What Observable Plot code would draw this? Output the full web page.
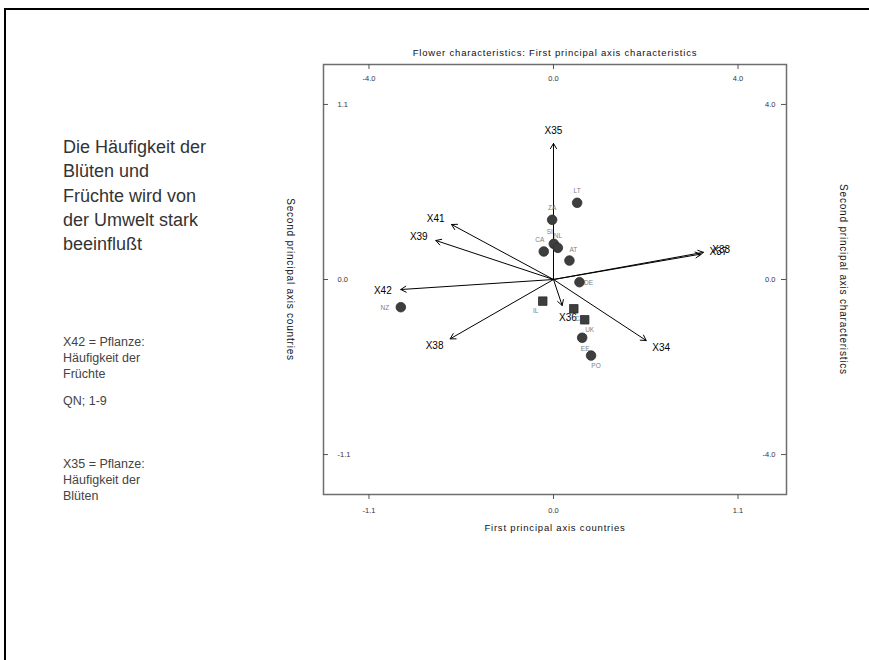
<!DOCTYPE html>
<html>
<head>
<meta charset="utf-8">
<script src="https://cdn.jsdelivr.net/npm/d3@7"></script>
<script src="https://cdn.jsdelivr.net/npm/@observablehq/plot@0.6"></script>
<style>
  body { margin: 0; background: #fff; font-family: "Liberation Sans", Arial, sans-serif; }
  #page { position: absolute; left: 4px; top: 8px; width: 880px; height: 700px;
          border-top: 2px solid #000; border-left: 2px solid #000; }
  .note { position: absolute; left: 63px; color: #333; white-space: nowrap; }
  #head { top: 135px; font-size: 18px; line-height: 24.3px; }
  .small { font-size: 12.5px; line-height: 16px; color: #444; }
  #chart { position: absolute; left: 260px; top: 30px; }
</style>
</head>
<body>
<div id="page"></div>
<div class="note" id="head">Die Häufigkeit der<br>Blüten und<br>Früchte wird von<br>der Umwelt stark<br>beeinflußt</div>
<div class="note small" style="top:334px">X42 = Pflanze:<br>Häufigkeit der<br>Früchte</div>
<div class="note small" style="top:393px">QN; 1-9</div>
<div class="note small" style="top:456px">X35 = Pflanze:<br>Häufigkeit der<br>Blüten</div>
<div id="chart"></div>
<script>
// Country scores on the first two principal axes
const countries     = ["LT", "ZA", "SI", "NL", "CA", "AT", "DE", "IL", "CZ", "UK", "EE", "PO", "NZ"];
const countryPc1    = [0.141, -0.008, 0.002, 0.026, -0.058, 0.095, 0.155, -0.064, 0.121, 0.186, 0.171, 0.224, -0.910];
const countryPc2    = [0.482, 0.375, 0.224, 0.199, 0.176, 0.119, -0.017, -0.136, -0.184, -0.253, -0.366, -0.478, -0.174];
const countryShape  = ["circle", "circle", "circle", "circle", "circle", "circle", "circle", "square", "square", "square", "circle", "circle", "circle"];
const countrySide   = ["n", "n", "nw", "n", "nw", "ne", "e", "sw", "se", "se", "s", "se", "w"];

// Characteristic loadings (vectors) on the same two axes
const traits   = ["X35", "X41", "X39", "X42", "X38", "X36", "X34", "X37", "X33"];
const traitPc1 = [0.0, -2.21, -2.55, -3.31, -2.24, 0.188, 2.01, 3.19, 3.25];
const traitPc2 = [3.11, 1.257, 0.891, -0.229, -1.356, -0.594, -1.394, 0.58, 0.62];

// Tick values for the country axes (bottom/left) and characteristic axes (top/right)
const countryTicks = [-1.1, 0.0, 1.1];
const traitTicks   = [-4.0, 0.0, 4.0];

// Characteristic units are drawn on the country scale
const k = countryTicks[2] / traitTicks[2];

const W = 600, H = 530, mL = 63, mR = 74, mT = 34, mB = 66;
const xDomain = [-1.371, 1.389], yDomain = [-1.351, 1.351];
const kx = (W - mL - mR) / (xDomain[1] - xDomain[0]);   // px per unit
const ky = (H - mT - mB) / (yDomain[1] - yDomain[0]);

const pts = countries.map((name, i) => ({
  name, x: countryPc1[i], y: countryPc2[i], shape: countryShape[i], side: countrySide[i]
}));

const vecs = traits.map((name, i) => {
  const x = traitPc1[i] * k, y = traitPc2[i] * k;
  const px = x * kx, py = -y * ky, len = Math.hypot(px, py);
  const ux = px / len, uy = py / len;
  return { name, x, y, lx: x + (ux * 18) / kx, ly: y - (uy * 13) / ky };
});

const sideOffset = {
  n: [0, -12], nw: [-4, -12], ne: [4, -11], s: [3, 11],
  se: [5, 10], sw: [-7, 10], w: [-16, 1], e: [9, 1]
};

const fmt = d => d.toFixed(1);
const font = "Liberation Sans, Arial, sans-serif";
const tickLen = 5;

const labelMarks = Object.entries(sideOffset).map(([side, [dx, dy]]) =>
  Plot.text(pts.filter(d => d.side === side), {
    x: "x", y: "y", text: "name", dx, dy,
    fontSize: 6.5, fill: "#808080", fontFamily: font
  })
);

const titles = {
  top: "Flower characteristics: First principal axis characteristics",
  bottom: "First principal axis countries",
  left: "Second principal axis countries",
  right: "Second principal axis characteristics"
};

const chart = Plot.plot({
  width: W, height: H,
  marginLeft: mL, marginRight: mR, marginTop: mT, marginBottom: mB,
  x: { domain: xDomain, axis: null },
  y: { domain: yDomain, axis: null },
  style: { fontFamily: font, background: "transparent", overflow: "visible" },
  marks: [
    Plot.frame({ stroke: "#6e6e6e", strokeWidth: 1.5 }),

    // bottom ticks (outward) and top ticks (inward)
    Plot.ruleX(countryTicks, { x: d => d, y1: yDomain[0], y2: yDomain[0] - tickLen / ky, stroke: "#555" }),
    Plot.ruleX(countryTicks, { x: d => d, y1: yDomain[1], y2: yDomain[1] - tickLen / ky, stroke: "#555" }),
    // left and right ticks (inward)
    Plot.ruleY(countryTicks, { y: d => d, x1: xDomain[0], x2: xDomain[0] + tickLen / kx, stroke: "#555" }),
    Plot.ruleY(countryTicks, { y: d => d, x1: xDomain[1], x2: xDomain[1] - tickLen / kx, stroke: "#555" }),

    // tick labels
    Plot.text(countryTicks, { x: d => d, frameAnchor: "bottom", dy: 18, text: fmt, fontSize: 7.5, fill: "#333" }),
    Plot.text(traitTicks, { x: d => d * k, frameAnchor: "top", dy: 11, text: fmt, fontSize: 7.5, fill: "#333" }),
    Plot.text(countryTicks, { y: d => d, frameAnchor: "left", textAnchor: "start", dx: 14, text: fmt, fontSize: 7.5, fill: "#333" }),
    Plot.text(traitTicks, { y: d => d * k, frameAnchor: "right", textAnchor: "end", dx: -11, text: fmt, fontSize: 7.5, fill: "#333" }),

    // titles
    Plot.text([titles.top], {
      frameAnchor: "top", textAnchor: "middle", dy: -15, text: d => d, fontSize: 9.5, fill: "#111"
    }),
    Plot.text([titles.bottom], {
      frameAnchor: "bottom", textAnchor: "middle", dy: 36, text: d => d, fontSize: 9.5, fill: "#111"
    }),
    Plot.text([titles.left], {
      frameAnchor: "left", textAnchor: "middle", dx: -33, rotate: 90, text: d => d, fontSize: 10, fill: "#111"
    }),
    Plot.text([titles.right], {
      frameAnchor: "right", textAnchor: "middle", dx: 57, rotate: 90, text: d => d, fontSize: 10, fill: "#111"
    }),

    // characteristic vectors
    Plot.arrow(vecs, { x1: 0, y1: 0, x2: "x", y2: "y", stroke: "#000", strokeWidth: 1, headLength: 9, headAngle: 60 }),
    Plot.text(vecs, { x: "lx", y: "ly", text: "name", fontSize: 10, fill: "#000" }),

    // countries
    ...labelMarks,
    Plot.dot(pts.filter(d => d.shape === "circle"), { x: "x", y: "y", r: 4.8, symbol: "circle", fill: "#3e3e3e", stroke: "#2e2e2e", strokeWidth: 0.8 }),
    Plot.dot(pts.filter(d => d.shape === "square"), { x: "x", y: "y", r: 4.8, symbol: "square", fill: "#3e3e3e", stroke: "#2e2e2e", strokeWidth: 0.8 })
  ]
});

// the axis titles are set with a little extra tracking
const titleSet = new Set(Object.values(titles));
d3.select(chart).selectAll("text")
  .filter(function () { return titleSet.has(this.textContent); })
  .attr("letter-spacing", "0.8");

document.getElementById("chart").appendChild(chart);
</script>
</body>
</html>
